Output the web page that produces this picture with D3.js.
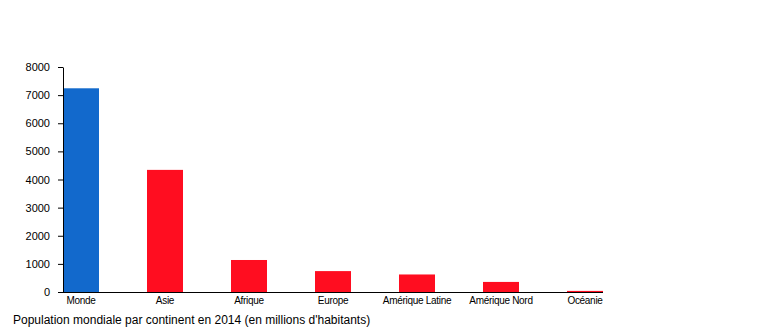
<!DOCTYPE html>
<html>
<head>
<meta charset="utf-8">
<script src="https://cdn.jsdelivr.net/npm/d3@7"></script>
<style>
  html, body { margin: 0; padding: 0; background: #fff; }
  svg { display: block; font-family: "Liberation Sans", Arial, Helvetica, sans-serif; }
</style>
</head>
<body>
<svg id="chart" width="768" height="334"></svg>
<script>
// Population par continent, 2014 (millions d'habitants)
const categories = ["Monde", "Asie", "Afrique", "Europe", "Amérique Latine", "Amérique Nord", "Océanie"];
const population = [7243, 4342, 1138, 743, 623, 358, 39];
const yTicks = [0, 1000, 2000, 3000, 4000, 5000, 6000, 7000, 8000];
const titleText = "Population mondiale par continent en 2014 (en millions d'habitants)";

(function drawChart() {
  const svg = d3.select("#chart");
  const plotLeft = 63, plotBottom = 292, plotTop = 67;
  const step = 84, barW = 36;

  const x = d3.scaleBand()
    .domain(categories)
    .range([plotLeft, plotLeft + step * (categories.length - 1) + barW])
    .paddingInner(1 - barW / step)
    .paddingOuter(0);

  const y = d3.scaleLinear().domain([0, 8000]).range([plotBottom, plotTop]);

  // bars
  svg.append("g").selectAll("rect")
    .data(categories)
    .join("rect")
    .attr("x", d => x(d))
    .attr("width", x.bandwidth())
    .attr("y", (d, i) => y(population[i]))
    .attr("height", (d, i) => plotBottom - y(population[i]))
    .attr("fill", (d, i) => i === 0 ? "#1269cc" : "#ff0d20");

  // y axis
  const yAxis = svg.append("g")
    .attr("transform", `translate(${plotLeft},0)`)
    .call(d3.axisLeft(y).tickValues(yTicks).tickFormat(d3.format("d"))
      .tickSize(5).tickPadding(8).tickSizeOuter(0));
  yAxis.select(".domain").attr("stroke", "#000");
  yAxis.selectAll("text").attr("font-size", 11).attr("fill", "#000")
    .attr("font-family", "Liberation Sans, Arial, sans-serif");

  // x axis baseline
  const lastX = x(categories[categories.length - 1]) + x.bandwidth();
  svg.append("line")
    .attr("x1", plotLeft).attr("x2", lastX)
    .attr("y1", plotBottom + 0.5).attr("y2", plotBottom + 0.5)
    .attr("stroke", "#000");

  // category labels
  svg.append("g").selectAll("text")
    .data(categories)
    .join("text")
    .attr("x", d => x(d) + x.bandwidth() / 2)
    .attr("y", plotBottom + 12)
    .attr("text-anchor", "middle")
    .attr("font-size", 10)
    .attr("letter-spacing", "-0.3px")
    .attr("fill", "#000")
    .text(d => d);

  // caption
  svg.append("text")
    .attr("x", 13)
    .attr("y", 324)
    .attr("font-size", 12)
    .attr("fill", "#000")
    .text(titleText);
})();
</script>
</body>
</html>
